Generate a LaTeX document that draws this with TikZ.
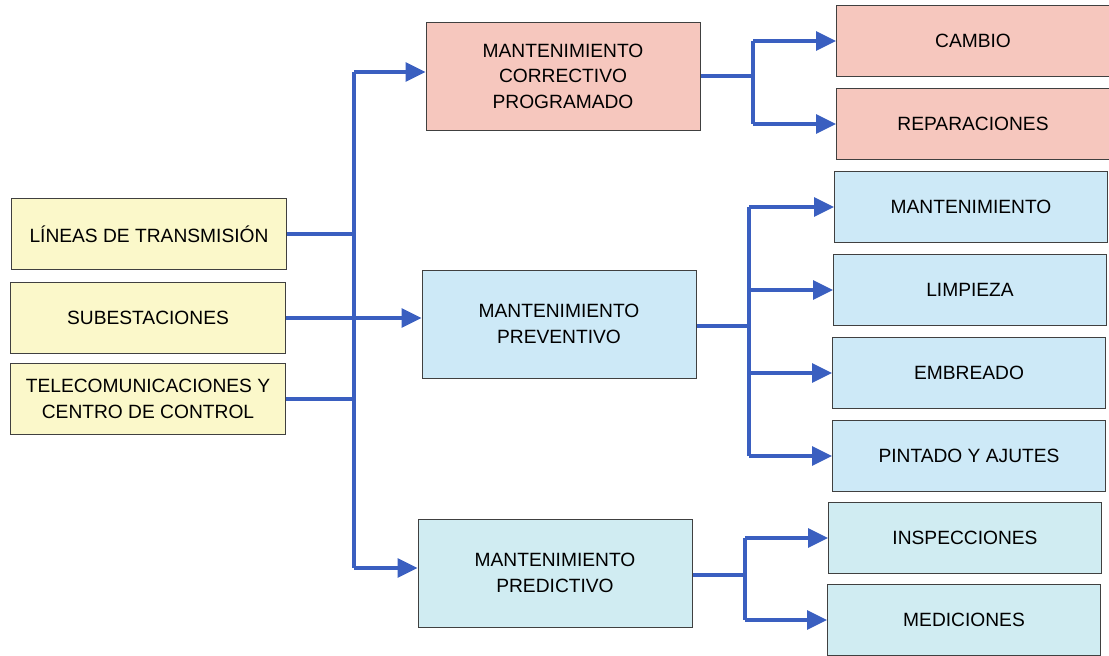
\documentclass[tikz,border=0pt]{standalone}
\usepackage{fontspec}
\setmainfont{Liberation Sans}
\usetikzlibrary{arrows.meta}
\definecolor{ylw}{RGB}{251,248,202}
\definecolor{pnk}{RGB}{246,199,190}
\definecolor{lblue}{RGB}{205,233,247}
\definecolor{lcyan}{RGB}{208,236,242}
\definecolor{conn}{RGB}{58,95,192}
\tikzset{
  box/.style={draw=black!75, line width=1pt, align=center, inner sep=2pt,
    font=\fontsize{19.2}{25.5}\selectfont},
  srcbox/.style={box, fill=ylw, minimum width=275pt, minimum height=71pt},
  midbox/.style={box, minimum width=274pt, minimum height=108pt},
  leafbox/.style={box, minimum width=273pt, minimum height=71pt},
  link/.style={draw=conn, line width=3.4pt},
  arr/.style={link, -{Triangle[length=20pt,width=19pt]}}
}
\begin{document}
\begin{tikzpicture}[x=1pt,y=-1pt]
\useasboundingbox (0,0) rectangle (1109,656);
% sources
\node[srcbox] (lin) at (149,234) {LÍNEAS DE TRANSMISIÓN};
\node[srcbox] (sub) at (148,318) {SUBESTACIONES};
\node[srcbox] (tel) at (148,399) {TELECOMUNICACIONES Y\\CENTRO DE CONTROL};
% middle
\node[midbox, fill=pnk] (cor) at (563,76) {MANTENIMIENTO\\CORRECTIVO\\PROGRAMADO};
\node[midbox, fill=lblue] (pre) at (559,324) {MANTENIMIENTO\\PREVENTIVO};
\node[midbox, fill=lcyan] (prd) at (555,573) {MANTENIMIENTO\\PREDICTIVO};
% leaves
\node[leafbox, fill=pnk] (cam) at (973,41) {CAMBIO};
\node[leafbox, fill=pnk] (rep) at (973,124) {REPARACIONES};
\node[leafbox, fill=lblue] (man) at (971,207) {MANTENIMIENTO};
\node[leafbox, fill=lblue] (lim) at (970,290) {LIMPIEZA};
\node[leafbox, fill=lblue] (emb) at (969,373) {EMBREADO};
\node[leafbox, fill=lblue] (pin) at (969,456) {PINTADO Y AJUTES};
\node[leafbox, fill=lcyan] (ins) at (965,538) {INSPECCIONES};
\node[leafbox, fill=lcyan] (med) at (964,620) {MEDICIONES};
% bus
\coordinate (bt) at (354,72);
\coordinate (bb) at (354,568);
\draw[link] (bt) -- (bb);
\draw[link] (lin.east) -- (lin.east -| bt);
\draw[link] (tel.east) -- (tel.east -| bt);
\draw[arr] (sub.east) -- (sub.east -| pre.west);
\draw[arr] (bt) -- (bt -| cor.west);
\draw[arr] (bb) -- (bb -| prd.west);
% correctivo branch
\coordinate (cj) at (753,76);
\draw[link] (cor.east) -- (cj);
\draw[link] (cj |- cam) -- (cj |- rep);
\draw[arr] (cj |- cam) -- (cam.west);
\draw[arr] (cj |- rep) -- (rep.west);
% preventivo branch
\coordinate (pj) at (749,326);
\draw[link] (pre.east |- pj) -- (pj);
\draw[link] (pj |- man) -- (pj |- pin);
\draw[arr] (pj |- man) -- (man.west);
\draw[arr] (pj |- lim) -- (lim.west);
\draw[arr] (pj |- emb) -- (emb.west);
\draw[arr] (pj |- pin) -- (pin.west);
% predictivo branch
\coordinate (dj) at (745,575);
\draw[link] (prd.east |- dj) -- (dj);
\draw[link] (dj |- ins) -- (dj |- med);
\draw[arr] (dj |- ins) -- (ins.west);
\draw[arr] (dj |- med) -- (med.west);
\end{tikzpicture}
\end{document}
